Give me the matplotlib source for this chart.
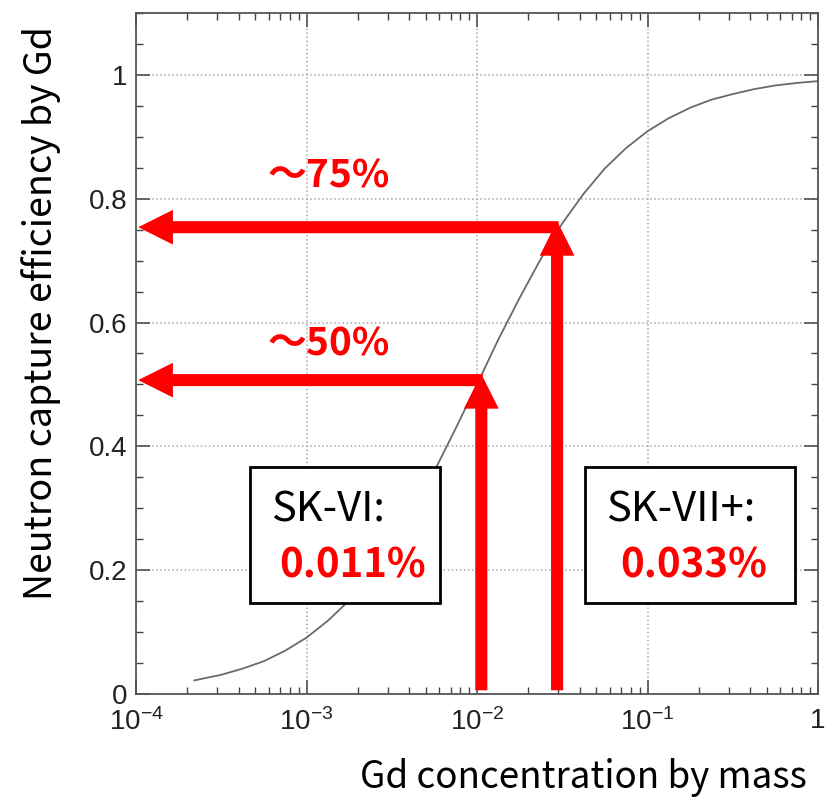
import matplotlib
matplotlib.use("Agg")
import matplotlib.pyplot as plt
from matplotlib.patches import Rectangle
import numpy as np

# values
conc = [2.2e-4, 3.16e-4, 4.22e-4, 5.62e-4, 7.5e-4, 1e-3, 1.33e-3, 1.78e-3,
        2.37e-3, 3.16e-3, 4.22e-3, 5.62e-3, 7.5e-3, 1e-2, 1.33e-2, 1.78e-2,
        2.37e-2, 3.16e-2, 4.22e-2, 5.62e-2, 7.5e-2, 0.1, 0.133, 0.178,
        0.237, 0.316, 0.422, 0.562, 0.75, 1.0]
eff = [0.022, 0.031, 0.041, 0.053, 0.070, 0.091, 0.118, 0.151,
       0.192, 0.240, 0.297, 0.360, 0.429, 0.500, 0.572, 0.640,
       0.703, 0.760, 0.808, 0.849, 0.882, 0.909, 0.930, 0.947,
       0.960, 0.969, 0.977, 0.983, 0.987, 0.990]

xticks = [1e-4, 1e-3, 1e-2, 1e-1, 1]
xticklabels = [r'$\mathregular{10^{-4}}$', r'$\mathregular{10^{-3}}$',
               r'$\mathregular{10^{-2}}$', r'$\mathregular{10^{-1}}$', '1']
yticks = [0, 0.2, 0.4, 0.6, 0.8, 1.0]
yticklabels = ['0', '0.2', '0.4', '0.6', '0.8', '1']

# SK phases: arrow x position (concentration) and efficiency reached
phase_names = ['SK-VI:', 'SK-VII+:']
phase_values = ['0.011%', '0.033%']
phase_conc = [0.0106, 0.0295]
phase_eff = [0.507, 0.754]
phase_tip = [0.517, 0.764]
eff_labels = ['～50%', '～75%']

plt.rcParams['font.family'] = ['Noto Sans CJK JP', 'DejaVu Sans']
plt.rcParams['mathtext.fontset'] = 'custom'
plt.rcParams['mathtext.rm'] = 'Liberation Sans'
plt.rcParams['mathtext.it'] = 'Liberation Sans:italic'
plt.rcParams['mathtext.bf'] = 'Liberation Sans:bold'

W, H = 832, 798


def fx(px):
    return px / W


def fy(py):
    return 1 - py / H


fig = plt.figure(figsize=(W / 100, H / 100), dpi=100)
ax = fig.add_axes([fx(136), fy(694), fx(818) - fx(136), fy(13) - fy(694)])

ax.plot(conc, eff, color='#6a6a6a', lw=1.3, zorder=2)

ax.set_xscale('log')
ax.set_xlim(1e-4, 1)
ax.set_ylim(0, 1.1)
ax.set_xticks(xticks)
ax.set_xticklabels(xticklabels)
ax.set_yticks(yticks)
ax.set_yticklabels(yticklabels)
ax.set_yticks(np.arange(0, 1.101, 0.05), minor=True)

ax.grid(which='major', linestyle=':', color='#a8a8a8', linewidth=1.1)
ax.tick_params(which='both', direction='in', top=True, right=True,
               color='#444444', labelfontfamily='Liberation Sans',
               labelsize=20, labelcolor='#222222')
ax.tick_params(which='major', length=10, width=1.1)
ax.tick_params(which='minor', length=5, width=1.0)
ax.tick_params(axis='y', pad=6)
ax.tick_params(axis='x', pad=10)
for s in ax.spines.values():
    s.set_color('#555555')
    s.set_linewidth(1.3)

style = 'simple,head_length=2.5,head_width=2.5,tail_width=0.87'
for c, e, tip in zip(phase_conc, phase_eff, phase_tip):
    # horizontal arrow to the y axis
    ax.annotate('', xy=(1.03e-4, e), xytext=(c * 1.02, e),
                arrowprops=dict(arrowstyle=style, color='red', lw=0,
                                shrinkA=0, shrinkB=0, mutation_scale=10),
                zorder=4)
    # vertical arrow from the x axis
    ax.annotate('', xy=(c, tip), xytext=(c, 0.006),
                arrowprops=dict(arrowstyle=style, color='red', lw=0,
                                shrinkA=0, shrinkB=0, mutation_scale=10),
                zorder=5)

# percentage labels above the horizontal arrows
for lab, base in zip(eff_labels, [355, 187]):
    fig.text(fx(268), fy(base), lab, color='red', fontsize=28,
             fontweight='bold', va='baseline', ha='left')

# boxes with the phase concentrations
boxes = [(250, 467, 440, 603), (585, 467, 795, 603)]
text_left = [(271, 279), (606, 620)]
for (x0, y0, x1, y1), (tl, vl), name, val in zip(boxes, text_left,
                                                 phase_names, phase_values):
    fig.patches.append(Rectangle((fx(x0), fy(y1)), fx(x1) - fx(x0),
                                 fy(y0) - fy(y1), transform=fig.transFigure,
                                 facecolor='white', edgecolor='black',
                                 lw=2, zorder=6))
    fig.text(fx(tl), fy(522), name, color='black', fontsize=30,
             va='baseline', ha='left', zorder=7)
    fig.text(fx(vl), fy(578), val, color='red', fontsize=29,
             fontweight='bold', va='baseline', ha='left', zorder=7)

fig.text(fx(41), fy(313), 'Neutron capture efficiency by Gd', fontsize=27,
         rotation=90, ha='center', va='center')
fig.text(fx(807), fy(788), 'Gd concentration by mass', fontsize=26.5,
         ha='right', va='baseline')

fig.savefig('out.png', dpi=100, facecolor='white')
